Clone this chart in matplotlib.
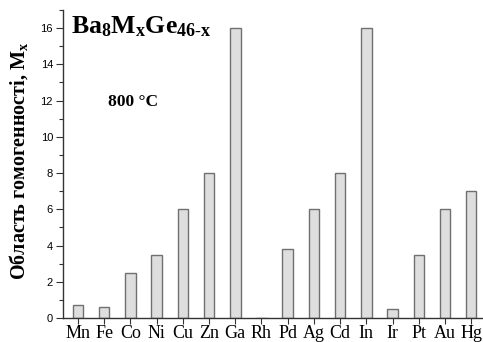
import numpy as np
import matplotlib
matplotlib.use("Agg")
import matplotlib.pyplot as plt
from matplotlib.ticker import MultipleLocator

# homogeneity range of Ba8MxGe46-x at 800 C
elements = ['Mn', 'Fe', 'Co', 'Ni', 'Cu', 'Zn', 'Ga', 'Rh',
            'Pd', 'Ag', 'Cd', 'In', 'Ir', 'Pt', 'Au', 'Hg']
x_max = [0.7, 0.6, 2.5, 3.5, 6, 8, 16, 0,
         3.8, 6, 8, 16, 0.5, 3.5, 6, 7]

plt.rcParams['mathtext.fontset'] = 'custom'
plt.rcParams['mathtext.rm'] = 'Liberation Serif'
plt.rcParams['mathtext.bf'] = 'Liberation Serif:bold'
plt.rcParams['mathtext.it'] = 'Liberation Serif:italic'

fig = plt.figure(figsize=(4.83, 3.42), dpi=100)
ax = fig.add_axes([0.130, 0.070, 0.870, 0.901])

pos = np.arange(len(elements))
ax.bar(pos, x_max, width=0.4, color='#dedede', edgecolor='#707070', linewidth=1.0)

ax.set_xlim(-0.58, 15.45)
ax.set_ylim(0, 17)
ax.set_xticks(pos)
ax.set_xticklabels(elements, family='Liberation Serif', fontsize=13)
ax.yaxis.set_major_locator(MultipleLocator(2))
ax.yaxis.set_minor_locator(MultipleLocator(1))
for lab in ax.get_yticklabels():
    lab.set_family('Liberation Sans')
    lab.set_fontsize(8)

ax.spines['top'].set_visible(False)
ax.spines['right'].set_visible(False)
for s in ['left', 'bottom']:
    ax.spines[s].set_color('#333333')
    ax.spines[s].set_linewidth(1.0)
ax.tick_params(axis='y', which='major', length=5, width=0.8, pad=2, colors='#333333')
ax.tick_params(axis='y', which='minor', length=3, width=0.8, colors='#333333')
ax.tick_params(axis='x', length=4, width=0.8, pad=1, colors='#333333', labelcolor='black')
ax.tick_params(axis='y', labelcolor='black')

ax.set_ylabel(r'Область гомогенності, M$_\mathbf{x}$', family='Liberation Serif',
              fontweight='bold', fontsize=14.5)
ax.yaxis.set_label_coords(-0.078, 0.51)

ax.text(0.02, 0.99, r'$\mathbf{Ba_{8}M_{x}Ge_{46\text{-}x}}$', transform=ax.transAxes,
        fontsize=18.5, va='top', ha='left')
ax.text(0.107, 0.70, '800 °C', transform=ax.transAxes, family='Liberation Serif',
        fontweight='bold', fontsize=12.5, ha='left', va='center')

fig.savefig('out.png', dpi=100)
